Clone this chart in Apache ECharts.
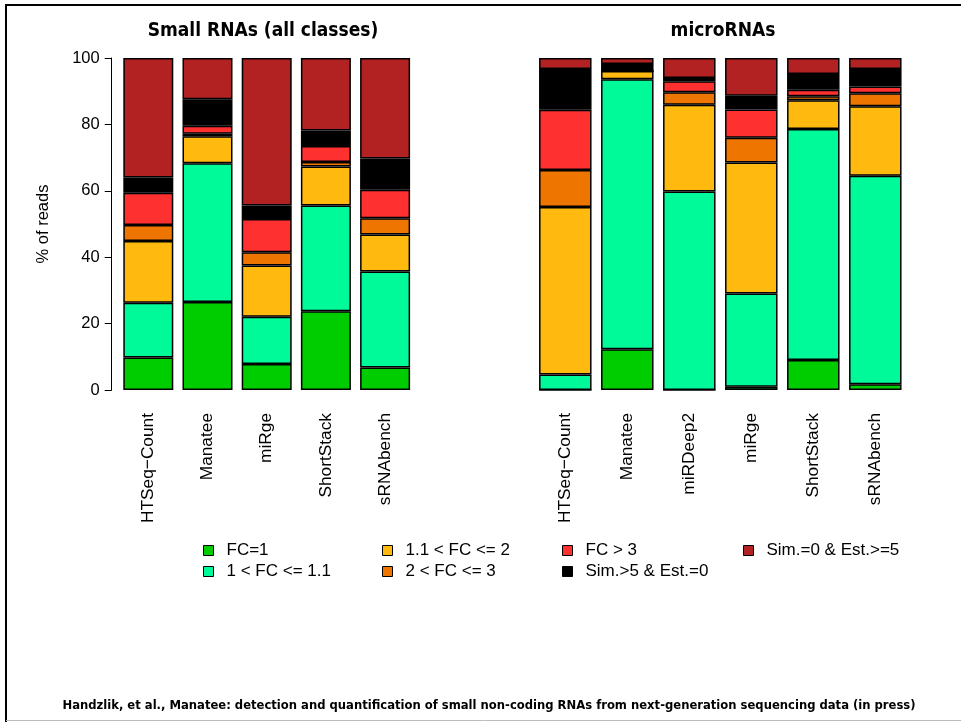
<!DOCTYPE html>
<html>
<head>
<meta charset="utf-8">
<script src="https://cdn.jsdelivr.net/npm/echarts@6/dist/echarts.min.js"></script>
<style>
  html, body { margin: 0; padding: 0; background: #fff; }
  #chart { width: 961px; height: 722px; }
</style>
</head>
<body>
<div id="chart"></div>
<script>
// Tools compared in each panel
const smallCategories = ['HTSeq\u2212Count', 'Manatee', 'miRge', 'ShortStack', 'sRNAbench'];
const microCategories = ['HTSeq\u2212Count', 'Manatee', 'miRDeep2', 'miRge', 'ShortStack', 'sRNAbench'];

// Fold-change classes, bottom to top of each stack
const classNames = ['FC=1', '1 < FC <= 1.1', '1.1 < FC <= 2', '2 < FC <= 3', 'FC > 3', 'Sim.>5 & Est.=0', 'Sim.=0 & Est.>=5'];
const classColors = ['#00CD00', '#00FA9A', '#FFB90F', '#EE7600', '#FF3030', '#000000', '#B22222'];

// % of reads, small RNAs (all classes)
const smallFC1      = [9.8, 26.5, 7.8, 23.7, 6.8];
const smallFC1to11  = [16.5, 41.8, 14.3, 31.9, 28.9];
const smallFC11to2  = [18.6, 8.1, 15.4, 11.7, 11.1];
const smallFC2to3   = [4.8, 0.8, 4.0, 1.4, 4.9];
const smallFCover3  = [9.7, 2.4, 10.0, 4.8, 8.6];
const smallSimNoEst = [4.6, 8.0, 4.1, 4.7, 9.4];
const smallEstNoSim = [36.0, 12.4, 44.4, 21.8, 30.3];

// % of reads, microRNAs
const microFC1      = [0, 12.3, 0, 1.0, 9.0, 1.7];
const microFC1to11  = [4.7, 81.3, 59.8, 28.1, 69.6, 62.8];
const microFC11to2  = [50.4, 2.5, 26.1, 39.4, 8.7, 21.0];
const microFC2to3   = [11.2, 0, 3.8, 7.5, 1.2, 3.9];
const microFCover3  = [18.1, 0, 3.3, 8.5, 1.9, 2.0];
const microSimNoEst = [12.3, 2.1, 1.0, 4.1, 4.8, 5.3];
const microEstNoSim = [3.3, 1.8, 6.0, 11.4, 4.8, 3.3];

const yTicks = [0, 20, 40, 60, 80, 100];

const smallSeries = [smallFC1, smallFC1to11, smallFC11to2, smallFC2to3, smallFCover3, smallSimNoEst, smallEstNoSim];
const microSeries = [microFC1, microFC1to11, microFC11to2, microFC2to3, microFCover3, microSimNoEst, microEstNoSim];

const FONT = '"Liberation Sans", Arial, sans-serif';
const TITLE_FONT = '"DejaVu Sans Condensed", "Liberation Sans", sans-serif';

const chart = echarts.init(document.getElementById('chart'), null, { renderer: 'canvas' });

function barSeries(values, i, gridIdx, width) {
  return {
    name: classNames[i],
    type: 'bar',
    stack: 'panel' + gridIdx,
    xAxisIndex: gridIdx,
    yAxisIndex: gridIdx,
    barWidth: width,
    data: values,
    itemStyle: { color: classColors[i], borderColor: '#000', borderWidth: 1.5 },
    emphasis: { disabled: true },
    animation: false
  };
}

const series = [];
smallSeries.forEach((v, i) => series.push(barSeries(v, i, 0, 50)));
microSeries.forEach((v, i) => series.push(barSeries(v, i, 1, 52.5)));

// legend laid out in 4 columns, filled top to bottom
const legendCols = [203, 382, 562, 743];
const legendRows = [542, 563];
const legends = classNames.map((name, i) => ({
  data: [name],
  left: legendCols[Math.floor(i / 2)],
  top: legendRows[i % 2],
  padding: 0,
  icon: 'rect',
  itemWidth: 10,
  itemHeight: 10,
  itemGap: 0,
  itemStyle: { borderColor: '#000', borderWidth: 1 },
  textStyle: { fontFamily: FONT, fontSize: 17, color: '#000', padding: [0, 0, 0, 8] },
  selectedMode: false
}));

const catAxis = (data, gridIndex) => ({
  type: 'category',
  gridIndex,
  data,
  axisLine: { show: false },
  axisTick: { show: false },
  axisLabel: { rotate: 90, margin: 23, fontFamily: FONT, fontSize: 17.3, color: '#000', interval: 0 }
});

chart.setOption({
  backgroundColor: '#fff',
  animation: false,
  grid: [
    { left: 118.7, top: 58, width: 296, height: 332 },
    { left: 534.3, top: 58, width: 372, height: 332 }
  ],
  xAxis: [catAxis(smallCategories, 0), catAxis(microCategories, 1)],
  yAxis: [
    {
      type: 'value', gridIndex: 0, min: yTicks[0], max: yTicks[yTicks.length - 1], interval: 20,
      offset: 7,
      name: '% of reads', nameLocation: 'middle', nameGap: 60,
      nameTextStyle: { fontFamily: FONT, fontSize: 16.5, color: '#000' },
      axisLine: { show: true, lineStyle: { color: '#000', width: 1 } },
      axisTick: { show: true, length: 7, lineStyle: { color: '#000' } },
      axisLabel: { margin: 12, fontFamily: FONT, fontSize: 16.5, color: '#000' },
      splitLine: { show: false }
    },
    {
      type: 'value', gridIndex: 1, min: 0, max: 100, show: false,
      splitLine: { show: false }
    }
  ],
  legend: legends,
  series,
  graphic: [
    // page frame
    { type: 'line', shape: { x1: 6, y1: 5, x2: 6, y2: 722 }, style: { stroke: '#000', lineWidth: 2 } },
    { type: 'line', shape: { x1: 5, y1: 5, x2: 961, y2: 5 }, style: { stroke: '#000', lineWidth: 2 } },
    { type: 'line', shape: { x1: 6, y1: 720.5, x2: 961, y2: 720.5 }, style: { stroke: '#bbb', lineWidth: 1 } },
    {
      type: 'text', x: 263, y: 31,
      style: { text: 'Small RNAs (all classes)', align: 'center', verticalAlign: 'middle',
               font: 'bold 19px ' + TITLE_FONT, fill: '#000' }
    },
    {
      type: 'text', x: 723, y: 31,
      style: { text: 'microRNAs', align: 'center', verticalAlign: 'middle',
               font: 'bold 19px ' + TITLE_FONT, fill: '#000' }
    },
    {
      type: 'text', x: 489, y: 706,
      style: { text: 'Handzlik, et al., Manatee: detection and quantification of small non-coding RNAs from next-generation sequencing data (in press)',
               align: 'center', verticalAlign: 'middle',
               font: 'bold 12.9px ' + TITLE_FONT, fill: '#000' }
    }
  ]
});
</script>
</body>
</html>
